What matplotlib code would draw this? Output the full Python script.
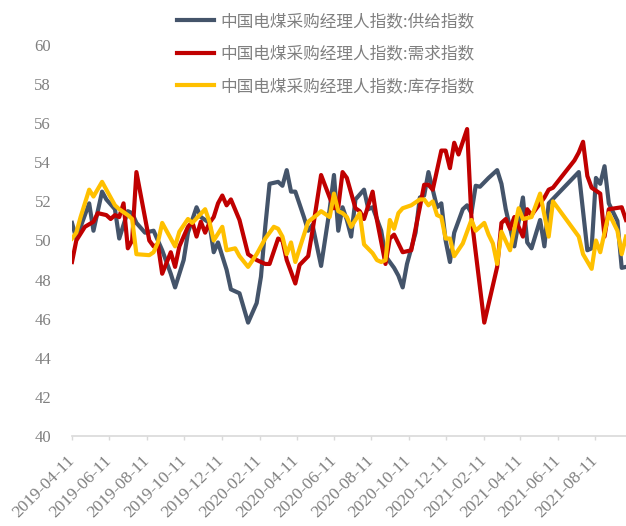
import matplotlib
matplotlib.use("Agg")
import matplotlib.pyplot as plt
import matplotlib.dates as mdates
import pandas as pd

# 中国电煤采购经理人指数, weekly readings
supply_dates = [
    "2019-04-11", "2019-04-18", "2019-05-09", "2019-05-16", "2019-05-30", "2019-06-06",
    "2019-06-20", "2019-06-27", "2019-07-11", "2019-07-18", "2019-07-25", "2019-08-08",
    "2019-08-22", "2019-09-05", "2019-09-19", "2019-09-26", "2019-10-10", "2019-10-17",
    "2019-10-31", "2019-11-07", "2019-11-21", "2019-11-28", "2019-12-05", "2019-12-19",
    "2019-12-26", "2020-01-09", "2020-01-23", "2020-02-06", "2020-02-13", "2020-02-20",
    "2020-02-27", "2020-03-12", "2020-03-19", "2020-03-26", "2020-04-02", "2020-04-09",
    "2020-04-23", "2020-04-30", "2020-05-07", "2020-05-21", "2020-06-04", "2020-06-11",
    "2020-06-18", "2020-06-25", "2020-07-02", "2020-07-09", "2020-07-16", "2020-07-30",
    "2020-08-06", "2020-08-13", "2020-08-27", "2020-09-03", "2020-09-17", "2020-09-24",
    "2020-10-01", "2020-10-08", "2020-10-22", "2020-10-29", "2020-11-05", "2020-11-12",
    "2020-11-19", "2020-11-26", "2020-12-03", "2020-12-10", "2020-12-17", "2020-12-24",
    "2021-01-07", "2021-01-14", "2021-01-21", "2021-01-28", "2021-02-04", "2021-02-18",
    "2021-03-04", "2021-03-11", "2021-03-18", "2021-04-01", "2021-04-15", "2021-04-22",
    "2021-04-29", "2021-05-13", "2021-05-20", "2021-05-27", "2021-07-15", "2021-07-29",
    "2021-08-05", "2021-08-12", "2021-08-19", "2021-08-26", "2021-09-02", "2021-09-16",
    "2021-09-23", "2021-09-30",
]
supply = [
    50.9, 50.1, 51.9, 50.5, 52.5, 52.1,
    51.6, 50.1, 51.5, 51.4, 50.9, 50.4,
    50.5, 49.5, 48.3, 47.6, 49.0, 50.4,
    51.7, 51.2, 50.9, 49.4, 49.9, 48.5,
    47.5, 47.3, 45.8, 46.8, 48.15, 50.7,
    52.9, 53.0, 52.8, 53.6, 52.5, 52.5,
    51.2, 50.5, 50.8, 48.7, 51.6, 53.35,
    50.5, 51.7, 51.05, 50.2, 52.1, 52.6,
    51.6, 51.7, 50.5, 49.2, 48.6, 48.2,
    47.6, 48.8, 50.4, 52.2, 52.3, 53.5,
    52.6, 51.7, 51.9, 50.0, 48.9, 50.4,
    51.6, 51.8, 51.4, 52.8, 52.75, 53.2,
    53.6, 52.9, 51.6, 49.7, 52.2, 49.9,
    49.6, 51.05, 49.7, 51.9, 53.5, 49.5,
    49.6, 53.2, 52.9, 53.8, 51.9, 51.0,
    48.6, 48.65,
]

demand_dates = [
    "2019-04-11", "2019-04-18", "2019-05-02", "2019-05-16", "2019-05-23", "2019-06-06",
    "2019-06-13", "2019-06-20", "2019-06-27", "2019-07-04", "2019-07-11", "2019-07-18",
    "2019-07-25", "2019-08-15", "2019-08-22", "2019-08-29", "2019-09-05", "2019-09-19",
    "2019-09-26", "2019-10-03", "2019-10-17", "2019-10-24", "2019-10-31", "2019-11-07",
    "2019-11-14", "2019-11-21", "2019-11-28", "2019-12-05", "2019-12-12", "2019-12-19",
    "2019-12-26", "2020-01-09", "2020-01-23", "2020-02-06", "2020-02-20", "2020-02-27",
    "2020-03-12", "2020-03-19", "2020-03-26", "2020-04-09", "2020-04-16", "2020-04-30",
    "2020-05-07", "2020-05-21", "2020-06-04", "2020-06-11", "2020-06-18", "2020-06-25",
    "2020-07-02", "2020-07-16", "2020-07-23", "2020-07-30", "2020-08-13", "2020-08-20",
    "2020-09-03", "2020-09-10", "2020-09-17", "2020-10-01", "2020-10-15", "2020-10-29",
    "2020-11-05", "2020-11-12", "2020-11-19", "2020-12-03", "2020-12-10", "2020-12-17",
    "2020-12-24", "2020-12-31", "2021-01-14", "2021-01-21", "2021-02-11", "2021-03-04",
    "2021-03-11", "2021-03-18", "2021-03-25", "2021-04-01", "2021-04-15", "2021-04-22",
    "2021-04-29", "2021-05-06", "2021-05-20", "2021-05-27", "2021-06-03", "2021-07-08",
    "2021-07-15", "2021-07-22", "2021-07-29", "2021-08-05", "2021-08-19", "2021-08-26",
    "2021-09-02", "2021-09-23", "2021-09-30",
]
demand = [
    48.9, 50.0, 50.7, 50.96, 51.4, 51.3,
    51.1, 51.3, 51.2, 51.9, 49.6, 50.0,
    53.5, 50.0, 49.7, 49.8, 48.3, 49.4,
    48.65, 49.7, 50.7, 50.96, 50.2, 50.96,
    50.4, 50.9, 51.2, 51.9, 52.3, 51.8,
    52.1, 51.05, 49.3, 49.0, 48.8, 48.8,
    50.1, 50.0, 49.0, 47.8, 48.75, 49.2,
    50.5, 53.35, 52.2, 51.65, 51.7, 53.5,
    53.2, 51.65, 51.5, 51.1, 52.5, 51.05,
    48.8, 50.1, 50.3, 49.4, 49.5, 51.7,
    52.85, 52.85, 52.6, 54.6, 54.6, 53.7,
    55.0, 54.4, 55.7, 51.2, 45.8, 48.65,
    50.9, 51.1, 50.6, 51.2, 50.2, 51.6,
    51.3, 51.6, 52.2, 52.6, 52.7, 54.1,
    54.5, 55.05, 53.3, 52.7, 52.4, 50.2,
    51.6, 51.7, 51.05,
]

stock_dates = [
    "2019-04-11", "2019-04-18", "2019-04-25", "2019-05-09", "2019-05-16", "2019-05-30",
    "2019-06-20", "2019-06-27", "2019-07-11", "2019-07-18", "2019-07-25", "2019-08-15",
    "2019-08-22", "2019-08-29", "2019-09-05", "2019-09-12", "2019-09-26", "2019-10-03",
    "2019-10-17", "2019-10-24", "2019-11-14", "2019-11-21", "2019-11-28", "2019-12-12",
    "2019-12-19", "2020-01-02", "2020-01-09", "2020-01-23", "2020-02-06", "2020-02-20",
    "2020-03-05", "2020-03-12", "2020-03-19", "2020-03-26", "2020-04-02", "2020-04-09",
    "2020-04-16", "2020-04-30", "2020-05-14", "2020-05-21", "2020-06-04", "2020-06-11",
    "2020-06-18", "2020-06-25", "2020-07-02", "2020-07-09", "2020-07-23", "2020-07-30",
    "2020-08-13", "2020-08-20", "2020-08-27", "2020-09-03", "2020-09-10", "2020-09-17",
    "2020-09-24", "2020-10-01", "2020-10-15", "2020-10-29", "2020-11-05", "2020-11-12",
    "2020-11-19", "2020-11-26", "2020-12-03", "2020-12-10", "2020-12-17", "2020-12-24",
    "2021-01-07", "2021-01-21", "2021-01-28", "2021-02-11", "2021-02-18", "2021-02-25",
    "2021-03-04", "2021-03-11", "2021-03-25", "2021-04-08", "2021-04-15", "2021-04-29",
    "2021-05-13", "2021-05-27", "2021-06-03", "2021-07-15", "2021-07-22", "2021-08-05",
    "2021-08-12", "2021-08-19", "2021-09-02", "2021-09-16", "2021-09-23", "2021-09-30",
]
stock = [
    50.1, 50.4, 51.2, 52.6, 52.25, 53.0,
    51.8, 51.6, 51.3, 51.1, 49.3, 49.25,
    49.4, 49.9, 50.9, 50.5, 49.7, 50.45,
    51.1, 50.9, 51.6, 50.96, 50.0, 50.7,
    49.5, 49.6, 49.2, 48.65, 49.3, 50.1,
    50.7, 50.6, 50.2, 49.3, 49.9, 48.9,
    49.6, 50.96, 51.3, 51.5, 51.2, 52.4,
    51.5, 51.4, 51.2, 50.7, 51.4, 49.8,
    49.35, 49.0, 48.9, 49.0, 51.05, 50.6,
    51.4, 51.65, 51.8, 52.1, 52.1, 51.8,
    52.0, 51.3, 51.2, 50.1, 50.1, 49.2,
    49.85, 51.05, 50.5, 50.9, 50.3, 49.85,
    48.8, 50.45, 49.5, 51.65, 51.1, 51.2,
    52.4, 50.2, 52.0, 50.2, 49.3, 48.55,
    50.0, 49.4, 51.4, 50.5, 49.3, 50.2,
]

labels = [
    "中国电煤采购经理人指数:供给指数",
    "中国电煤采购经理人指数:需求指数",
    "中国电煤采购经理人指数:库存指数",
]
colors = ["#44546A", "#C00000", "#FFC000"]

fig = plt.figure(figsize=(6.26, 5.26), dpi=100)
ax = fig.add_axes([72 / 626, 1 - 436 / 526, 1 - 72 / 626, (436 - 45) / 526])

series = [(supply_dates, supply), (demand_dates, demand), (stock_dates, stock)]
for (d, v), lab, c in zip(series, labels, colors):
    ax.plot(pd.to_datetime(d), v, color=c, lw=3.0, label=lab,
            solid_joinstyle="round")

ax.set_ylim(40, 60)
ax.set_yticks(range(40, 61, 2))
ax.set_xlim(pd.Timestamp("2019-04-11"), pd.Timestamp("2021-09-30"))
ax.xaxis.set_major_locator(mdates.MonthLocator(bymonth=[2, 4, 6, 8, 10, 12], bymonthday=11))
ax.xaxis.set_major_formatter(mdates.DateFormatter("%Y-%m-%d"))

for s in ["top", "right", "left"]:
    ax.spines[s].set_visible(False)
ax.spines["bottom"].set_color("#D9D9D9")
ax.spines["bottom"].set_linewidth(1.2)

ax.tick_params(axis="y", length=0, pad=15, labelsize=12, labelcolor="#808080")
ax.tick_params(axis="x", length=3, width=1.0, color="#D9D9D9", pad=13,
               labelsize=12.5, labelcolor="#808080")
for t in ax.get_yticklabels() + ax.get_xticklabels():
    t.set_fontfamily("Liberation Serif")
for t in ax.get_xticklabels():
    t.set_rotation(45)
    t.set_ha("right")
    t.set_va("center")
    t.set_rotation_mode("anchor")

fig.legend(loc="upper left", bbox_to_anchor=(177 / 626, 1 - 13 / 526), frameon=False,
           borderpad=0, borderaxespad=0, handlelength=2.2, handletextpad=0.4,
           labelspacing=0.94, labelcolor="#808080",
           prop={"family": ["Noto Sans CJK SC", "DejaVu Sans"], "size": 12})

fig.savefig("out.png", dpi=100)
